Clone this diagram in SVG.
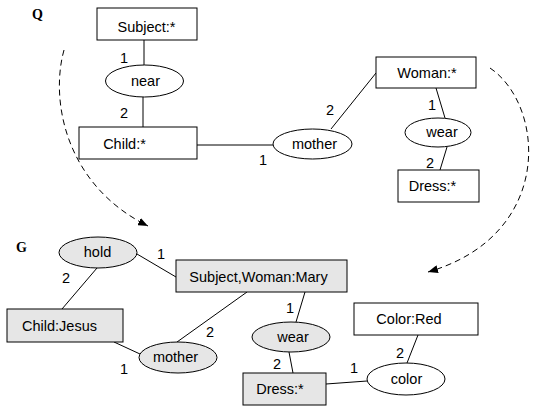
<svg xmlns="http://www.w3.org/2000/svg" width="534" height="411" viewBox="0 0 534 411">
<style>
.box{fill:#fff;stroke:#000;stroke-width:1}
.g{fill:#e6e6e6}
.t{font-family:"Liberation Sans",Arial,sans-serif;font-size:14.5px;fill:#000;text-anchor:middle}
.n{font-family:"Liberation Sans",Arial,sans-serif;font-size:14.5px;fill:#000;text-anchor:middle}
.lbl{font-family:"Liberation Serif","Times New Roman",serif;font-size:14px;font-weight:bold;fill:#000}
.e{stroke:#000;stroke-width:1;fill:none}
.d{stroke:#000;stroke-width:1;fill:none;stroke-dasharray:6,4}
</style>
<defs>
<marker id="ah" markerWidth="10" markerHeight="8" refX="10" refY="4" orient="auto" markerUnits="userSpaceOnUse">
<path d="M0,0 L10,4 L0,8 Z" fill="#000"/>
</marker>
</defs>
<text class="lbl" x="32" y="19">Q</text>
<text class="lbl" x="16" y="252">G</text>
<g id="connectors">
<line class="e" x1="144" y1="40" x2="144" y2="65"/>
<line class="e" x1="143" y1="97" x2="143" y2="127"/>
<line class="e" x1="197" y1="145" x2="273" y2="145"/>
<line class="e" x1="331" y1="129" x2="376" y2="73"/>
<line class="e" x1="436" y1="88" x2="445" y2="118"/>
<line class="e" x1="447" y1="147" x2="440" y2="170"/>
<line class="e" x1="97" y1="268" x2="62" y2="309"/>
<line class="e" x1="137" y1="254" x2="176" y2="277"/>
<line class="e" x1="247" y1="292" x2="177" y2="342"/>
<line class="e" x1="114" y1="342" x2="140" y2="354"/>
<line class="e" x1="305" y1="292" x2="296" y2="322"/>
<line class="e" x1="289" y1="352" x2="293" y2="373"/>
<line class="e" x1="326" y1="384" x2="367" y2="381"/>
<line class="e" x1="407" y1="363" x2="418" y2="335"/>
<path class="d" d="M64,50 C50,100 65,185 148,226" marker-end="url(#ah)"/>
<path class="d" d="M490,68 C545,105 555,235 428,272" marker-end="url(#ah)"/>
</g>
<g class="n">
<text x="124" y="63">1</text>
<text x="124" y="118">2</text>
<text x="263" y="165">1</text>
<text x="330" y="115">2</text>
<text x="432" y="110">1</text>
<text x="430" y="168">2</text>
<text x="66" y="283">2</text>
<text x="161" y="259">1</text>
<text x="210" y="337">2</text>
<text x="124" y="374">1</text>
<text x="290" y="313">1</text>
<text x="277" y="369">2</text>
<text x="354" y="373">1</text>
<text x="400" y="358">2</text>
</g>
<g id="q-subject"><rect class="box" x="97" y="8" width="100" height="32"/><text class="t" x="146.5" y="32">Subject:*</text></g>
<g id="q-near"><ellipse class="box" cx="144.5" cy="81" rx="39" ry="16"/><text class="t" x="145.5" y="86">near</text></g>
<g id="q-child"><rect class="box" x="79" y="127" width="118" height="32"/><text class="t" x="124.5" y="149">Child:*</text></g>
<g id="q-mother"><ellipse class="box" cx="312.5" cy="144" rx="39.5" ry="15"/><text class="t" x="314.5" y="149">mother</text></g>
<g id="q-woman"><rect class="box" x="376" y="57" width="100" height="31"/><text class="t" x="427" y="78">Woman:*</text></g>
<g id="q-wear"><ellipse class="box" cx="438" cy="132.5" rx="33" ry="14.5"/><text class="t" x="442" y="137">wear</text></g>
<g id="q-dress"><rect class="box" x="398" y="170" width="81" height="32"/><text class="t" x="432.5" y="191">Dress:*</text></g>
<g id="g-hold"><ellipse class="box g" cx="98" cy="252.5" rx="39" ry="15.5"/><text class="t" x="97.5" y="257">hold</text></g>
<g id="g-subject"><rect class="box g" x="176" y="260" width="171" height="32"/><text class="t" x="258.5" y="282">Subject,Woman:Mary</text></g>
<g id="g-child"><rect class="box g" x="7" y="309" width="116" height="33"/><text class="t" x="59.5" y="331">Child:Jesus</text></g>
<g id="g-mother"><ellipse class="box g" cx="178" cy="357.5" rx="39" ry="15.5"/><text class="t" x="175.5" y="362">mother</text></g>
<g id="g-wear"><ellipse class="box g" cx="291" cy="337" rx="39" ry="15"/><text class="t" x="293" y="342">wear</text></g>
<g id="g-dress"><rect class="box g" x="243" y="373" width="83" height="32"/><text class="t" x="280" y="394">Dress:*</text></g>
<g id="g-color"><ellipse class="box" cx="406" cy="379" rx="39" ry="16"/><text class="t" x="406.5" y="384">color</text></g>
<g id="g-colorred"><rect class="box" x="354" y="303" width="124" height="32"/><text class="t" x="409" y="324">Color:Red</text></g>
</svg>
